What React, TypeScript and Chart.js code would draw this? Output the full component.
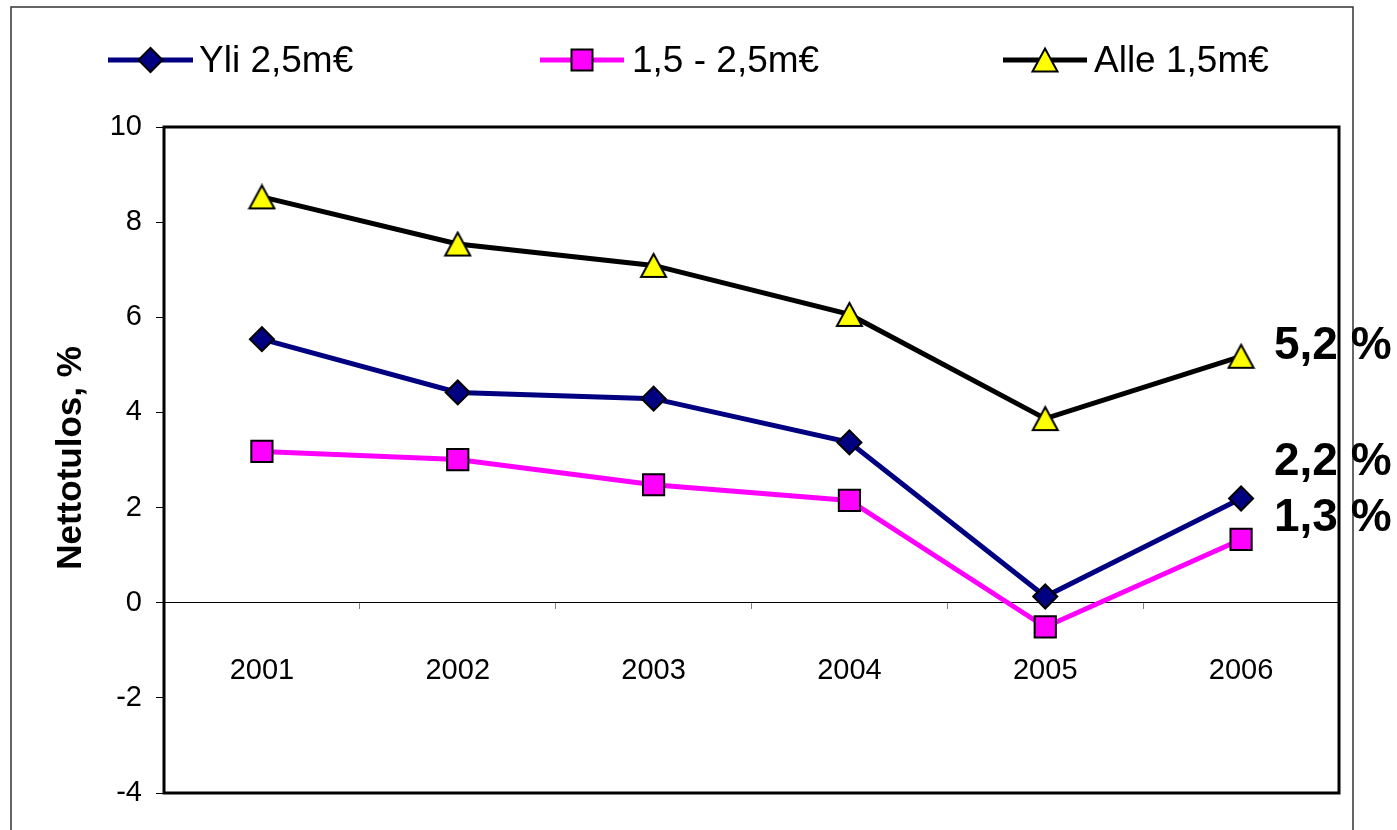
import React, { useEffect, useRef } from 'react';
import { Chart, registerables } from 'chart.js';

Chart.register(...registerables);

const years = ['2001', '2002', '2003', '2004', '2005', '2006'];
const yli = [5.54, 4.42, 4.29, 3.37, 0.13, 2.19];
const keski = [3.18, 3.01, 2.48, 2.15, -0.51, 1.33];
const alle = [8.53, 7.54, 7.09, 6.06, 3.87, 5.18];
const seriesNames = ['Yli 2,5m€', '1,5 - 2,5m€', 'Alle 1,5m€'];
const endLabels = ['2,2 %', '1,3 %', '5,2 %'];
const yMin = -4;
const yMax = 10;
const yStep = 2;
const yTitle = 'Nettotulos, %';

const FONT = "'Liberation Sans', Arial, sans-serif";
const lineColors = ['#000080', '#FF00FF', '#000000'];
const markerFills = ['#000080', '#FF00FF', '#FFFF00'];
const markerRadii = [12, 15, 14];

function drawMarker(ctx: CanvasRenderingContext2D, style: string, x: number, y: number, fill: string) {
  ctx.save();
  ctx.beginPath();
  if (style === 'rectRot') {
    ctx.moveTo(x - 12, y);
    ctx.lineTo(x, y - 12);
    ctx.lineTo(x + 12, y);
    ctx.lineTo(x, y + 12);
    ctx.closePath();
  } else if (style === 'rect') {
    ctx.rect(x - 10.5, y - 10.5, 21, 21);
  } else {
    ctx.moveTo(x, y - 11.5);
    ctx.lineTo(x + 12.5, y + 11.5);
    ctx.lineTo(x - 12.5, y + 11.5);
    ctx.closePath();
  }
  ctx.fillStyle = fill;
  ctx.fill();
  ctx.lineWidth = 2;
  ctx.strokeStyle = '#000';
  ctx.stroke();
  ctx.restore();
}

function makeTriangleImage(): HTMLCanvasElement {
  const c = document.createElement('canvas');
  c.width = 29;
  c.height = 27;
  const g = c.getContext('2d') as CanvasRenderingContext2D;
  drawMarker(g, 'triangle', 14.5, 13.5, '#FFFF00');
  return c;
}

const decorPlugin = {
  id: 'decor',
  beforeDraw(chart: any) {
    const ctx = chart.ctx as CanvasRenderingContext2D;
    ctx.save();
    ctx.fillStyle = '#fff';
    ctx.fillRect(0, 0, chart.width, chart.height);
    ctx.strokeStyle = '#333';
    ctx.lineWidth = 1.5;
    ctx.beginPath();
    ctx.moveTo(11, chart.height + 5);
    ctx.lineTo(11, 7);
    ctx.lineTo(1353, 7);
    ctx.lineTo(1353, chart.height + 5);
    ctx.stroke();
    ctx.restore();
  },
  afterDatasetsDraw(chart: any) {
    const ctx = chart.ctx as CanvasRenderingContext2D;
    const a = chart.chartArea;
    ctx.save();
    ctx.strokeStyle = '#000';
    ctx.lineWidth = 3;
    ctx.strokeRect(a.left, a.top, a.right - a.left, a.bottom - a.top);

    const styles = ['rectRot', 'rect', 'triangle'];
    const items = [
      { x0: 108, x1: 193, tx: 199 },
      { x0: 540, x1: 624, tx: 632 },
      { x0: 1003, x1: 1087, tx: 1094 },
    ];
    const ly = 60;
    items.forEach((it, i) => {
      ctx.beginPath();
      ctx.strokeStyle = lineColors[i];
      ctx.lineWidth = 5;
      ctx.moveTo(it.x0, ly);
      ctx.lineTo(it.x1, ly);
      ctx.stroke();
      drawMarker(ctx, styles[i], (it.x0 + it.x1) / 2, ly, markerFills[i]);
      ctx.fillStyle = '#000';
      ctx.font = `37px ${FONT}`;
      ctx.textAlign = 'left';
      ctx.textBaseline = 'alphabetic';
      ctx.fillText(seriesNames[i], it.tx, 72);
    });

    ctx.save();
    ctx.translate(81, 458);
    ctx.rotate(-Math.PI / 2);
    ctx.font = `bold 35px ${FONT}`;
    ctx.textAlign = 'center';
    ctx.textBaseline = 'alphabetic';
    ctx.fillStyle = '#000';
    ctx.fillText(yTitle, 0, 0);
    ctx.restore();

    const offsets = [-24, -8, 3];
    ctx.font = `bold 46px ${FONT}`;
    ctx.textAlign = 'left';
    ctx.textBaseline = 'alphabetic';
    ctx.fillStyle = '#000';
    for (let i = 0; i < 3; i++) {
      const meta = chart.getDatasetMeta(i);
      const pt = meta.data[meta.data.length - 1];
      ctx.fillText(endLabels[i], 1274, pt.y + offsets[i]);
    }
    ctx.restore();
  },
};

export default function App() {
  const ref = useRef<HTMLCanvasElement | null>(null);
  useEffect(() => {
    if (!ref.current) return;
    const tri = makeTriangleImage();
    const pointStyles: any[] = ['rectRot', 'rect', tri];
    const mk = (label: string, data: number[], i: number, order: number) => ({
      label,
      data,
      borderColor: lineColors[i],
      backgroundColor: markerFills[i],
      borderWidth: 5,
      tension: 0,
      pointStyle: pointStyles[i],
      pointRadius: markerRadii[i],
      pointBackgroundColor: markerFills[i],
      pointBorderColor: '#000',
      pointBorderWidth: 2,
      order,
    });
    const chart = new Chart(ref.current, {
      type: 'line',
      data: {
        labels: years,
        datasets: [
          mk(seriesNames[0], yli, 0, 3),
          mk(seriesNames[1], keski, 1, 2),
          mk(seriesNames[2], alle, 2, 1),
        ],
      },
      options: {
        responsive: false,
        animation: false,
        devicePixelRatio: 1,
        layout: { padding: { left: 0, top: 127, right: 58, bottom: 37 } },
        plugins: { legend: { display: false }, tooltip: { enabled: false } },
        scales: {
          x: {
            type: 'category',
            position: { y: 0 } as any,
            offset: true,
            grid: {
              display: true,
              drawOnChartArea: false,
              drawTicks: true,
              tickLength: 6,
              offset: true,
              color: '#808080',
              lineWidth: 1,
            },
            border: { display: true, color: '#000', width: 1 },
            ticks: {
              color: '#000',
              font: { family: FONT, size: 29 },
              padding: 45,
              maxRotation: 0,
              autoSkip: false,
            },
          },
          y: {
            min: yMin,
            max: yMax,
            afterFit: (scale: any) => {
              scale.width = 164;
            },
            grid: {
              drawOnChartArea: false,
              drawTicks: true,
              tickLength: 8,
              color: '#000',
              lineWidth: 1,
            },
            border: { display: false },
            ticks: {
              stepSize: yStep,
              color: '#000',
              font: { family: FONT, size: 29 },
              padding: 14,
            },
          },
        },
      },
      plugins: [decorPlugin],
    });
    return () => chart.destroy();
  }, []);
  return (
    <div style={{ position: 'fixed', left: 0, top: 0, width: 1397, height: 830, background: '#fff' }}>
      <canvas ref={ref} width={1397} height={830} style={{ display: 'block' }} />
    </div>
  );
}
